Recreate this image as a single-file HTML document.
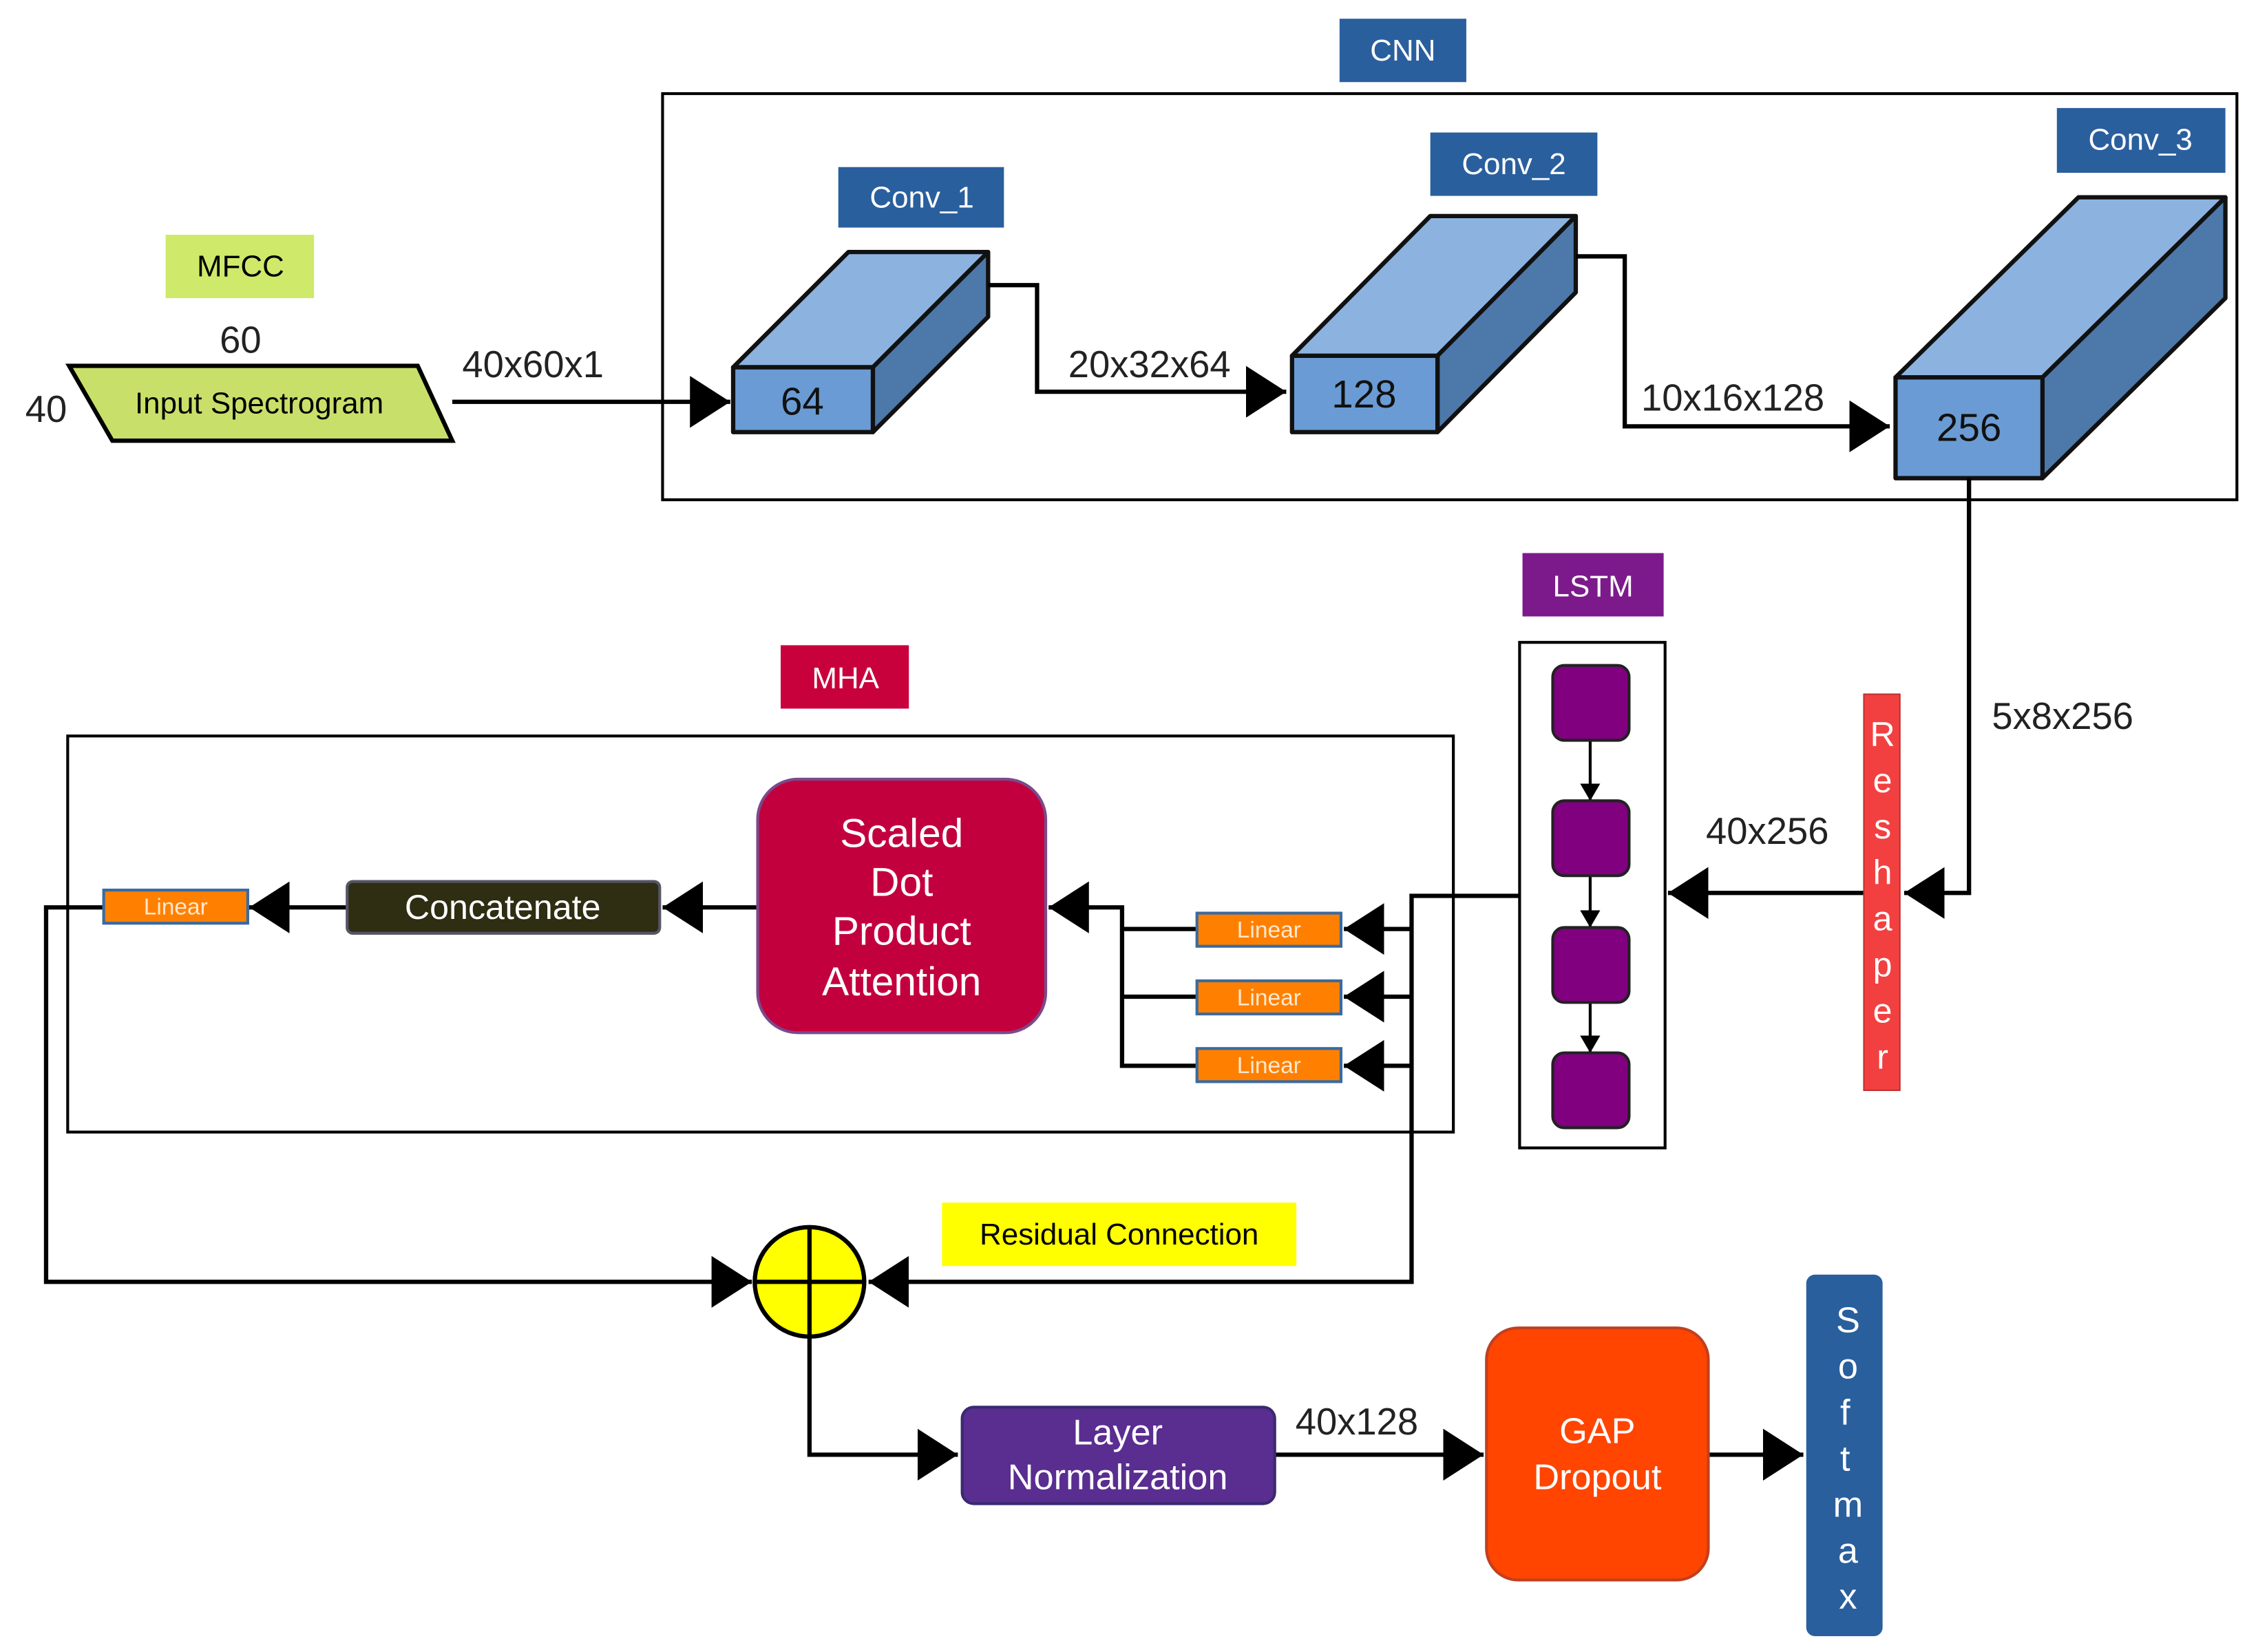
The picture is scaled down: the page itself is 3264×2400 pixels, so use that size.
<!DOCTYPE html>
<html><head><meta charset="utf-8"><style>html,body{margin:0;padding:0;background:#fff}svg{display:block}text{font-family:"Liberation Sans",sans-serif}</style></head><body>
<svg width="3264" height="2400" viewBox="0 0 1560 1147" preserveAspectRatio="none" xmlns="http://www.w3.org/2000/svg">
<defs>
<marker id="b" viewBox="0 0 10 10" refX="10" refY="5" markerWidth="28" markerHeight="36" orient="auto" markerUnits="userSpaceOnUse" preserveAspectRatio="none"><path d="M0,0L10,5L0,10z" fill="#000"/></marker>
<marker id="s" viewBox="0 0 10 10" refX="10" refY="5" markerWidth="12" markerHeight="14" orient="auto" markerUnits="userSpaceOnUse" preserveAspectRatio="none"><path d="M0,0L10,5L0,10z" fill="#000"/></marker></defs>
<g fill="none" stroke="#000" stroke-width="2">
<rect x="460" y="65" width="1093" height="282"/>
<rect x="47" y="511" width="962" height="275"/>
<rect x="1055" y="446" width="101" height="351"/>
</g>
<g fill="#2a5f9e"><rect x="930" y="13" width="88" height="44"/><rect x="582" y="116" width="115" height="42"/><rect x="993" y="92" width="116" height="44"/><rect x="1428" y="75" width="117" height="45"/></g>
<g fill="#fff" font-size="21" text-anchor="middle"><text x="974" y="42">CNN</text><text x="640" y="144">Conv_1</text><text x="1051" y="121">Conv_2</text><text x="1486" y="104">Conv_3</text></g>
<rect x="115" y="163" width="103" height="44" fill="#cfe96a"/><text x="167" y="192" font-size="21" text-anchor="middle">MFCC</text>
<text x="167" y="245" font-size="26" text-anchor="middle" fill="#222">60</text><text x="32" y="293" font-size="26" text-anchor="middle" fill="#222">40</text>
<polygon points="48,254 290,254 314,306 78,306" fill="#c8e06a" stroke="#000" stroke-width="3"/>
<text x="180" y="287" font-size="21" text-anchor="middle">Input Spectrogram</text>
<g stroke="#111" stroke-width="3" stroke-linejoin="round">
<polygon points="509,255 589,175 686,175 606,255" fill="#8cb3e0"/><polygon points="606,255 686,175 686,220 606,300" fill="#4d78aa"/><rect x="509" y="255" width="97" height="45" fill="#6a9bd4"/>
<polygon points="897,247 993,150 1094,150 998,247" fill="#8cb3e0"/><polygon points="998,247 1094,150 1094,203 998,300" fill="#4d78aa"/><rect x="897" y="247" width="101" height="53" fill="#6a9bd4"/>
<polygon points="1316,262 1443,137 1545,137 1418,262" fill="#8cb3e0"/><polygon points="1418,262 1545,137 1545,207 1418,332" fill="#4d78aa"/><rect x="1316" y="262" width="102" height="70" fill="#6a9bd4"/>
</g>
<g font-size="27" text-anchor="middle" fill="#111"><text x="557" y="288">64</text><text x="947" y="283">128</text><text x="1367" y="306">256</text></g>
<g fill="none" stroke="#000" stroke-width="3">
<path d="M314,279H507" marker-end="url(#b)"/>
<path d="M686,198H720V272H893" marker-end="url(#b)"/>
<path d="M1094,178H1128V296H1312" marker-end="url(#b)"/>
<path d="M1367,332V620H1322" marker-end="url(#b)"/>
<path d="M1294,620H1158" marker-end="url(#b)"/>
<path d="M1055,622H980V890H603" marker-end="url(#b)"/>
<path d="M980,645H933" marker-end="url(#b)"/><path d="M980,692H933" marker-end="url(#b)"/><path d="M980,740H933" marker-end="url(#b)"/>
<path d="M831,645H779M831,692H779M831,740H779V630H728" marker-end="url(#b)"/>
<path d="M526,630H460" marker-end="url(#b)"/>
<path d="M241,630H173" marker-end="url(#b)"/>
<path d="M72,630H32V890H522" marker-end="url(#b)"/>
<path d="M562,928V1010H665" marker-end="url(#b)"/>
<path d="M885,1010H1030" marker-end="url(#b)"/>
<path d="M1186,1010H1252" marker-end="url(#b)"/>
<path d="M1104,514V556" stroke-width="2" marker-end="url(#s)"/>
<path d="M1104,608V644" stroke-width="2" marker-end="url(#s)"/>
<path d="M1104,696V731" stroke-width="2" marker-end="url(#s)"/>
</g>
<g font-size="26" text-anchor="middle" fill="#222"><text x="370" y="262">40x60x1</text><text x="798" y="262">20x32x64</text><text x="1203" y="285">10x16x128</text><text x="1432" y="506">5x8x256</text><text x="1227" y="586">40x256</text><text x="942" y="996">40x128</text></g>
<rect x="1294" y="482" width="25" height="275" fill="#f24040" stroke="#c03030"/>
<g fill="#fff" font-size="24" text-anchor="middle"><text x="1307" y="518">R</text><text x="1307" y="550">e</text><text x="1307" y="582">s</text><text x="1307" y="614">h</text><text x="1307" y="646">a</text><text x="1307" y="678">p</text><text x="1307" y="710">e</text><text x="1307" y="742">r</text></g>
<rect x="1057" y="384" width="98" height="44" fill="#7c1a8c"/><text x="1106" y="414" font-size="21" fill="#fff" text-anchor="middle">LSTM</text>
<g fill="#800080" stroke="#222" stroke-width="2"><rect x="1078" y="462" width="53" height="52" rx="8"/><rect x="1078" y="556" width="53" height="52" rx="8"/><rect x="1078" y="644" width="53" height="52" rx="8"/><rect x="1078" y="731" width="53" height="52" rx="8"/></g>
<rect x="542" y="448" width="89" height="44" fill="#c8003c"/><text x="587" y="478" font-size="21" fill="#fff" text-anchor="middle">MHA</text>
<rect x="526" y="541" width="200" height="176" rx="28" fill="#c3003e" stroke="#7a4a8a" stroke-width="2"/>
<g fill="#fff" font-size="28" text-anchor="middle"><text x="626" y="588">Scaled</text><text x="626" y="622">Dot</text><text x="626" y="656">Product</text><text x="626" y="691">Attention</text></g>
<rect x="241" y="612" width="217" height="36" rx="4" fill="#2f2d12" stroke="#556" stroke-width="2"/><text x="349" y="638" font-size="24" fill="#fff" text-anchor="middle">Concatenate</text>
<g fill="#ff8000" stroke="#3a6aa0" stroke-width="2"><rect x="72" y="618" width="100" height="23"/><rect x="831" y="634" width="100" height="23"/><rect x="831" y="681" width="100" height="23"/><rect x="831" y="728" width="100" height="23"/></g>
<g fill="#ffe8d0" font-size="16" text-anchor="middle"><text x="122" y="635">Linear</text><text x="881" y="651">Linear</text><text x="881" y="698">Linear</text><text x="881" y="745">Linear</text></g>
<rect x="654" y="835" width="246" height="44" fill="#ffff00"/><text x="777" y="864" font-size="21" text-anchor="middle">Residual Connection</text>
<circle cx="562" cy="890" r="38" fill="#ffff00" stroke="#000" stroke-width="3"/><path d="M524,890H600M562,852V928" stroke="#000" stroke-width="3"/>
<rect x="668" y="977" width="217" height="67" rx="8" fill="#5a2d91" stroke="#3a2a70" stroke-width="2"/>
<g fill="#fff" font-size="25" text-anchor="middle"><text x="776" y="1003">Layer</text><text x="776" y="1034">Normalization</text></g>
<rect x="1032" y="922" width="154" height="175" rx="22" fill="#ff4500" stroke="#c04020" stroke-width="2"/>
<g fill="#fff" font-size="25" text-anchor="middle"><text x="1109" y="1002">GAP</text><text x="1109" y="1034">Dropout</text></g>
<rect x="1254" y="885" width="53" height="251" rx="6" fill="#2a5f9e"/>
<g fill="#fff" font-size="25" text-anchor="middle"><text x="1283" y="925">S</text><text x="1283" y="957">o</text><text x="1281" y="989">f</text><text x="1281" y="1021">t</text><text x="1283" y="1053">m</text><text x="1283" y="1085">a</text><text x="1283" y="1117">x</text></g>
</svg>
</body></html>
